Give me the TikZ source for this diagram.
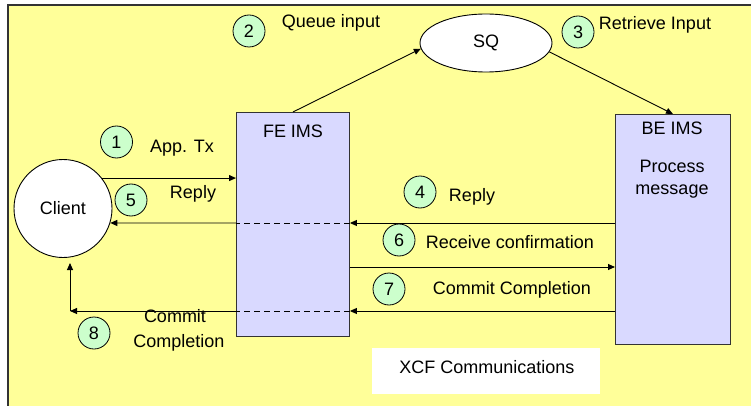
\documentclass[tikz,border=0pt]{standalone}
\usepackage{fontspec}
\setmainfont{Liberation Sans}
\usetikzlibrary{shapes.geometric,arrows.meta,calc}
\definecolor{bgyellow}{HTML}{FFFF99}
\definecolor{boxblue}{HTML}{D9D9FF}
\definecolor{numgreen}{HTML}{CCFFCC}
\definecolor{edgegray}{HTML}{333333}
\begin{document}
\begin{tikzpicture}[x=1pt,y=-1pt,
  every node/.style={font=\fontsize{18}{21}\selectfont, inner sep=0pt},
  arr/.style={line width=0.9pt, -{Triangle[length=7pt,width=6pt]}},
  dashline/.style={line width=0.9pt, dash pattern=on 6pt off 4pt},
  imsbox/.style={draw=edgegray, fill=boxblue, line width=0.9pt, anchor=north west},
  num/.style={circle, draw=black, fill=numgreen, line width=0.8pt, minimum size=32pt}]
\useasboundingbox (0,0) rectangle (751,406);
\fill[white] (0,0) rectangle (751,406);
\fill[bgyellow] (8,5) rectangle (760,415);
\draw[edgegray, line width=1.2pt] (8,415) -- (8,5) -- (760,5);
% XCF box
\node[fill=white, minimum width=228pt, minimum height=46pt, anchor=north west] (xcfbox) at (372,348) {};
\node (xcf) at (487,367) {XCF Communications};
% main shapes
\node[circle, draw=black, fill=white, line width=0.9pt, minimum size=98pt] (client) at (63,208.5) {Client};
\node[imsbox, minimum width=113pt, minimum height=224pt] (fe) at (236,112) {};
\node[imsbox, minimum width=115pt, minimum height=230pt] (be) at (615,114) {};
\node[ellipse, draw=black, fill=white, line width=0.9pt, minimum width=132pt, minimum height=58pt] (sq) at (486,43) {SQ};
\node (felbl) at (293,131) {FE IMS};
\node (belbl) at (672,128) {BE IMS};
\node[align=center, font=\fontsize{18}{22}\selectfont] (proc) at (672,179) {Process\\message};
% coordinates
\coordinate (r5) at (0,223);
\coordinate (r6) at (0,267);
\coordinate (r7) at (0,311);
\coordinate (c8) at (70,311);
\coordinate (c8top) at (70,263);
% connectors
\draw[arr] (fe.north) -- (sq.185);
\draw[arr] (sq.-8) -- (be.north);
\draw[arr] (client.38) -- (client.38 -| fe.west);
\draw[arr] (be.west |- r5) -- (fe.east |- r5);
\draw[dashline] (fe.east |- r5) -- (fe.west |- r5);
\draw[arr] (fe.west |- r5) -- (client.-17);
\draw[arr] (fe.east |- r6) -- (be.west |- r6);
\draw[arr] (be.west |- r7) -- (fe.east |- r7);
\draw[dashline] (fe.east |- r7) -- (fe.west |- r7);
\draw[arr] (fe.west |- r7) -- (c8);
\draw[arr] (c8) -- (c8top);
% numbers
\node[num] (n1) at (116.5,142) {1};
\node[num] (n2) at (249,31) {2};
\node[num] (n3) at (578,32) {3};
\node[num] (n4) at (420,192) {4};
\node[num] (n5) at (131,200) {5};
\node[num] (n6) at (399,240) {6};
\node[num] (n7) at (389,289) {7};
\node[num] (n8) at (94,333) {8};
% labels
\node (l2) at (331,23) {Queue input};
\node (l3) at (655,25) {Retrieve Input};
\node (l1) at (182,148) {App. Tx};
\node (l5) at (193,194) {Reply};
\node (l4) at (472,197) {Reply};
\node (l6) at (510,242) {Receive confirmation};
\node (l7) at (512,290) {Commit Completion};
\node (l8a) at (175,316) {Commit};
\node (l8b) at (179,343) {Completion};
\end{tikzpicture}
\end{document}
